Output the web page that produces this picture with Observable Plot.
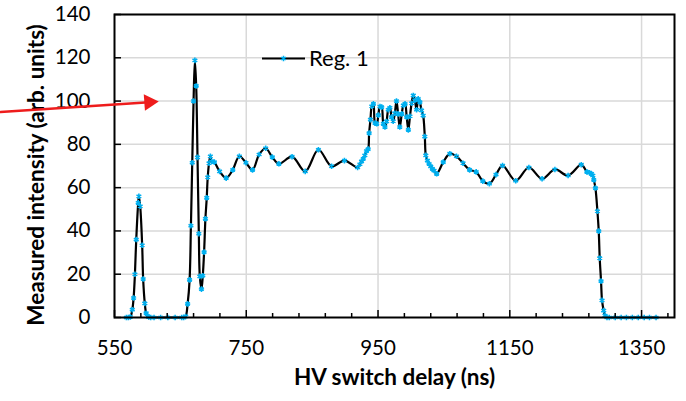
<!DOCTYPE html>
<html><head><meta charset="utf-8">
<script src="https://cdn.jsdelivr.net/npm/d3@7"></script>
<script src="https://cdn.jsdelivr.net/npm/@observablehq/plot@0.6"></script>
<style>
body{margin:0;background:#fff;}
#chart{width:686px;height:401px;position:relative;}
</style></head><body><div id="chart"></div>
<script>
// HV switch delay (ns)
const delay = [
  568, 571, 574, 577, 579, 581, 583, 586, 587, 589, 592, 593.5, 596, 598, 600, 602, 605, 610, 620, 631, 642, 652, 655, 658,
  661, 664, 666, 668, 670, 672, 674, 676, 678, 679.5, 682, 684, 686, 688, 690, 691.5, 693.5, 695.5, 697.5, 701.5,
  709.5, 719.5, 729.5, 739.5, 749.5, 759.5, 769.5, 779.5, 789.5, 799.5, 819.5, 839.5, 859.5, 879.5, 899, 919,
  922.5, 925, 927.5, 930, 932.5, 935, 936.5, 938.5, 940.5, 943, 945.5, 948, 950.5, 953, 955.5, 958, 960.5, 963,
  965.5, 968, 970.5, 973, 975.5, 978, 980.5, 983, 986, 988.5, 991, 993.5, 996, 998.5, 1001, 1003.5, 1006, 1008.5,
  1011, 1013.5, 1016, 1018.5, 1021, 1022.5, 1025, 1027.5, 1030, 1032.5, 1035, 1039, 1049, 1059, 1069, 1079, 1089,
  1099, 1109, 1119, 1129, 1139, 1159, 1179, 1199, 1218.5, 1238.5, 1258.5, 1267, 1271, 1274, 1276, 1277.5, 1280,
  1283, 1285, 1286.5, 1288.5, 1290, 1292.5, 1294.5, 1297.5, 1301, 1310, 1319, 1327, 1336, 1345, 1354, 1362, 1372
];
// Measured intensity (arb. units), series "Reg. 1"
const intensity = [
  0, 0, 0.3, 3.6, 9, 20, 36, 53, 56, 51.4, 33.4, 17.8, 6.5, 2, 0.6, 0.2, 0, 0, 0, 0, 0, 0, 0, 0.5,
  6.3, 17.4, 42.4, 71.5, 100, 118.8, 107, 74, 38.7, 19, 13.1, 19.3, 30.2, 45.6, 55.3, 64.8, 71.3, 74.5, 72.2, 71.8,
  67.5, 64.4, 68.2, 74.5, 71.5, 68.2, 75.3, 78.2, 74.1, 71, 74.3, 67.5, 77.5, 69.9, 72.5, 69.3,
  70.8, 72.1, 73.3, 74.9, 76.9, 77.8, 85.2, 91.4, 97.6, 98.7, 89.8, 89.5, 93.5, 97.5, 97.2, 89.5, 88, 90.6,
  96, 96.9, 92.6, 90.7, 94.4, 100, 94.1, 88, 94.1, 98, 98.7, 92.6, 86.7, 93, 99, 102.6, 100.3, 96,
  101, 99.5, 95.7, 93.3, 83.6, 74.9, 72.5, 71, 69.8, 68.7, 67.9, 66.4, 71.8, 75.7, 74.5, 71.3, 68.2,
  67.3, 63, 61.8, 66, 70.2, 63.2, 69.3, 64.1, 68.4, 65.6, 70.6, 67.3, 66.9, 66.4, 65.6, 63.6, 59.8,
  49.1, 39.9, 27.4, 16.8, 7.9, 3.2, 0.9, 0, 0, 0, 0, 0, 0, 0, 0, 0, 0
];
const seriesName = "Reg. 1";
const xTicks = [550, 750, 950, 1150, 1350];
const xMinorTicks = [590, 630, 670, 710, 790, 830, 870, 910, 990, 1030, 1070, 1110, 1190, 1230, 1270, 1310, 1390];
const yTicks = [0, 20, 40, 60, 80, 100, 120, 140];
const xTitle = "HV switch delay (ns)";
const yTitle = "Measured intensity (arb. units)";
// red annotation arrow (data coordinates: tail, head)
const arrowX = [377, 602.6];
const arrowY = [94.9, 99.5];

const data = delay.map((d, i) => ({x: d, y: intensity[i]}));
const arrowData = arrowX.map((x, i) => ({x, y: arrowY[i]}));
const font = "Lato, 'Open Sans', sans-serif";
const W = 686, H = 401, mL = 114, mR = 12, mT = 14, mB = 84;
const pw = W - mL - mR, ph = H - mT - mB;
const red = "#ee1c1c";
const fmt = d3.format("d");

const plot = Plot.plot({
  width: W, height: H,
  marginLeft: mL, marginRight: mR, marginTop: mT, marginBottom: mB,
  style: {fontFamily: font, fontSize: "20px", background: "#fff", color: "#000", overflow: "visible"},
  x: {domain: [550, 1400]},
  y: {domain: [0, 140]},
  marks: [
    Plot.gridX(xTicks.slice(1), {stroke: "#d9d9d9", strokeOpacity: 1, strokeWidth: 1.5}),
    Plot.gridY(yTicks.slice(1), {stroke: "#d9d9d9", strokeOpacity: 1, strokeWidth: 1.5}),
    Plot.line(data, {x: "x", y: "y", stroke: "#000", strokeWidth: 2.2, curve: "catmull-rom"}),
    Plot.dot(data, {x: "x", y: "y", symbol: "asterisk", r: 2.6, stroke: "#00b0f0", strokeWidth: 1.6}),
    Plot.frame({stroke: "#000", strokeWidth: 2}),
    Plot.ruleX(xMinorTicks, {stroke: "#000", strokeWidth: 1.5, insetTop: ph - 4}),
    Plot.ruleX(xTicks, {stroke: "#000", strokeWidth: 1.5, insetTop: ph - 7}),
    Plot.ruleY(yTicks, {stroke: "#000", strokeWidth: 1.5, insetRight: pw - 7}),
    Plot.axisX(xTicks, {tickSize: 0, tickPadding: 23, label: null, fontSize: 20.5, tickFormat: fmt}),
    Plot.axisY(yTicks, {tickSize: 0, tickPadding: 24, label: null, fontSize: 20.5, tickFormat: fmt}),
    Plot.text([xTitle], {frameAnchor: "bottom", dy: 67, fontWeight: "bold", fontSize: 22.5}),
    Plot.text([yTitle], {frameAnchor: "left", textAnchor: "middle", dx: -78, dy: 9, rotate: -90, fontWeight: "bold", fontSize: 22.5}),
    Plot.line(arrowData, {x: "x", y: "y", stroke: red, strokeWidth: 2.5, clip: false}),
    Plot.dot(arrowData.slice(1), {x: "x", y: "y", symbol: "triangle", r: 6.2, fill: red, stroke: "none", rotate: 86})
  ]
});
document.getElementById("chart").appendChild(plot);

// in-plot legend
const svg = d3.select(plot);
const lg = svg.append("g");
lg.append("line").attr("x1", 262).attr("x2", 305).attr("y1", 58.5).attr("y2", 58.5)
  .attr("stroke", "#000").attr("stroke-width", 2.2);
lg.append("path").attr("d", d3.symbol(d3.symbolAsterisk, 2.6 * 2.6 * Math.PI)())
  .attr("transform", "translate(283.5,58.5)").attr("stroke", "#00b0f0").attr("stroke-width", 1.6).attr("fill", "none");
lg.append("text").attr("x", 309).attr("y", 58.5).attr("dy", "0.35em").attr("text-anchor", "start").text(seriesName)
  .attr("font-family", font).attr("font-size", 22).attr("fill", "#000");
</script></body></html>
